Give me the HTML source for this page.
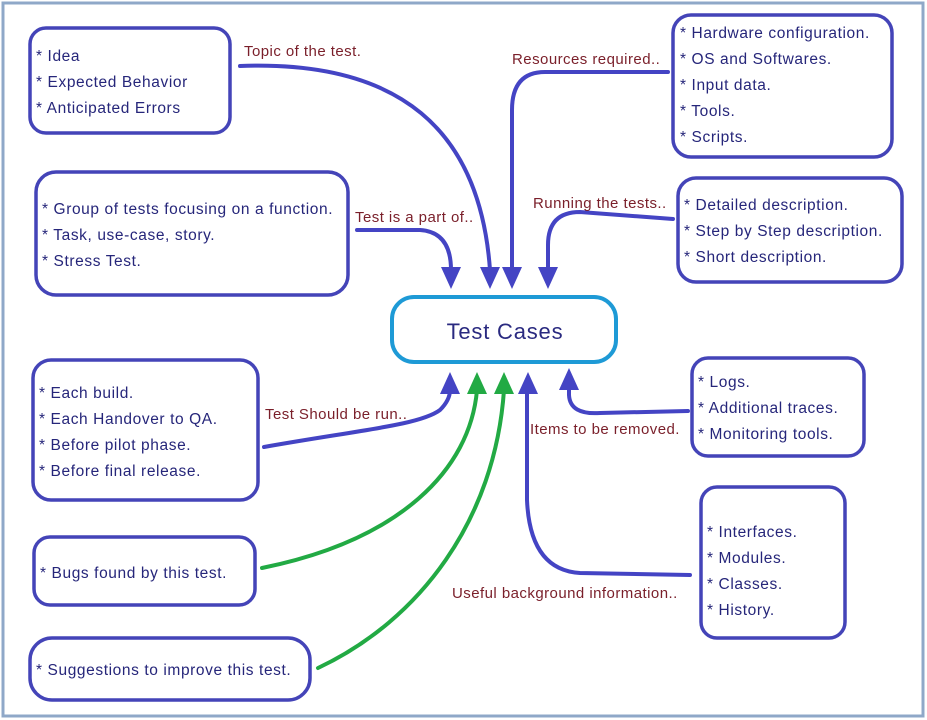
<!DOCTYPE html>
<html><head><meta charset="utf-8"><style>
html,body{margin:0;padding:0;background:#fff}
svg{display:block}
.t{font-family:"Liberation Sans","DejaVu Sans",sans-serif;font-size:15.5px;fill:#26267a;letter-spacing:0.6px;font-weight:500}
.l{font-family:"Liberation Sans","DejaVu Sans",sans-serif;font-size:15px;fill:#7a1f2a;letter-spacing:0.45px}
.b{fill:#fff;stroke:#4444b8;stroke-width:3.5}
.c{fill:none;stroke:#4444c4;stroke-width:4;stroke-linecap:round}
.g{fill:none;stroke:#22aa44;stroke-width:4;stroke-linecap:round}
.a{fill:#4444c4}.ag{fill:#22aa44}
</style></head><body>
<svg width="927" height="720" viewBox="0 0 927 720" xmlns="http://www.w3.org/2000/svg">
<rect x="3" y="3" width="920" height="713" fill="#fff" stroke="#8fa8c8" stroke-width="3"/>

<path class="c" d="M240,66 C400,60 480,130 490,270"/>
<path class="c" d="M668,72 L545,72 Q512,72 512,110 L512,270"/>
<path class="c" d="M357,230 L420,230 Q451,232 451,270"/>
<path class="c" d="M673,219 L580,212 Q548,212 548,245 L548,270"/>
<path class="c" d="M264,447 C360,430 420,425 440,410 Q450,400 450,390"/>
<path class="g" d="M262,568 C400,540 470,470 477,390"/>
<path class="g" d="M318,668 C420,620 495,520 504,390"/>
<path class="c" d="M690,575 L580,573 Q530,570 527,500 L527,390"/>
<path class="c" d="M688,411 L600,413 Q570,415 569,395 L569,388"/>

<polygon class="a" points="441,267 461,267 451,289"/>
<polygon class="a" points="480,267 500,267 490,289"/>
<polygon class="a" points="502,267 522,267 512,289"/>
<polygon class="a" points="538,267 558,267 548,289"/>
<polygon class="a" points="440,394 460,394 450,372"/>
<polygon class="ag" points="467,394 487,394 477,372"/>
<polygon class="ag" points="494,394 514,394 504,372"/>
<polygon class="a" points="518,394 538,394 528,372"/>
<polygon class="a" points="559,390 579,390 569,368"/>

<text class="l" x="244" y="56">Topic of the test.</text>
<text class="l" x="512" y="64">Resources required..</text>
<text class="l" x="355" y="222">Test is a part of..</text>
<text class="l" x="533" y="208">Running the tests..</text>
<text class="l" x="265" y="419">Test Should be run..</text>
<text class="l" x="530" y="434">Items to be removed.</text>
<text class="l" x="452" y="598">Useful background information..</text>

<rect class="b" x="30" y="28" width="200" height="105" rx="16"/>
<text class="t" x="36" y="61">* Idea</text>
<text class="t" x="36" y="87">* Expected Behavior</text>
<text class="t" x="36" y="113">* Anticipated Errors</text>

<rect class="b" x="36" y="172" width="312" height="123" rx="20"/>
<text class="t" x="42" y="214">* Group of tests focusing on a function.</text>
<text class="t" x="42" y="240">* Task, use-case, story.</text>
<text class="t" x="42" y="266">* Stress Test.</text>

<rect class="b" x="673" y="15" width="219" height="142" rx="18"/>
<text class="t" x="680" y="38">* Hardware configuration.</text>
<text class="t" x="680" y="64">* OS and Softwares.</text>
<text class="t" x="680" y="90">* Input data.</text>
<text class="t" x="680" y="116">* Tools.</text>
<text class="t" x="680" y="142">* Scripts.</text>

<rect class="b" x="678" y="178" width="224" height="104" rx="18"/>
<text class="t" x="684" y="210">* Detailed description.</text>
<text class="t" x="684" y="236">* Step by Step description.</text>
<text class="t" x="684" y="262">* Short description.</text>

<rect x="392" y="297" width="224" height="65" rx="22" fill="#fff" stroke="#1e9ad6" stroke-width="4"/>
<text x="505" y="339" text-anchor="middle" font-family="Liberation Sans, DejaVu Sans, sans-serif" font-size="22" fill="#2a2a80" letter-spacing="0.8">Test Cases</text>

<rect class="b" x="33" y="360" width="225" height="140" rx="18"/>
<text class="t" x="39" y="398">* Each build.</text>
<text class="t" x="39" y="424">* Each Handover to QA.</text>
<text class="t" x="39" y="450">* Before pilot phase.</text>
<text class="t" x="39" y="476">* Before final release.</text>

<rect class="b" x="692" y="358" width="172" height="98" rx="16"/>
<text class="t" x="698" y="387">* Logs.</text>
<text class="t" x="698" y="413">* Additional traces.</text>
<text class="t" x="698" y="439">* Monitoring tools.</text>

<rect class="b" x="34" y="537" width="221" height="68" rx="16"/>
<text class="t" x="40" y="578">* Bugs found by this test.</text>

<rect class="b" x="30" y="638" width="280" height="62" rx="22"/>
<text class="t" x="36" y="675">* Suggestions to improve this test.</text>

<rect class="b" x="701" y="487" width="144" height="151" rx="16"/>
<text class="t" x="707" y="537">* Interfaces.</text>
<text class="t" x="707" y="563">* Modules.</text>
<text class="t" x="707" y="589">* Classes.</text>
<text class="t" x="707" y="615">* History.</text>
</svg>
</body></html>
